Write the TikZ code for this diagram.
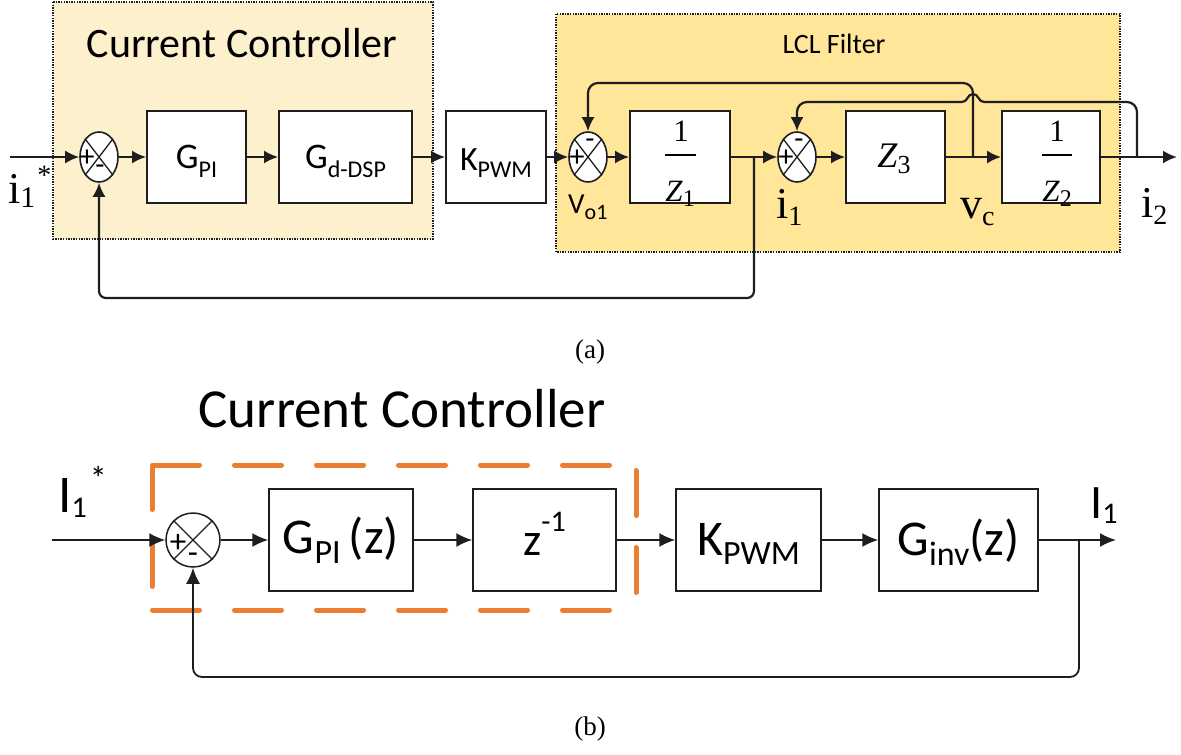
\documentclass[tikz,border=0pt]{standalone}
\usepackage{fontspec}
\setmainfont{Carlito}
\newfontfamily\tnr{Liberation Serif}
\usetikzlibrary{arrows.meta,shapes.geometric}
\definecolor{ccfill}{HTML}{FDF0CC}
\definecolor{lclfill}{HTML}{FFE699}
\definecolor{orng}{HTML}{ED7D31}
\definecolor{ln}{HTML}{1E1E1E}
\newcommand{\fs}[1]{\fontsize{#1}{#1}\selectfont}
\newcommand{\lsub}[3]{\raisebox{-#2pt}{\fs{#1}#3}}
\newcommand{\lsup}[3]{\raisebox{#2pt}{\fs{#1}#3}}
\begin{document}
\begin{tikzpicture}[x=1pt,y=-1pt,
  box/.style={draw=ln, fill=white, line width=1.8pt, inner sep=0pt},
  sumj/.style={ellipse, draw=ln, fill=white, line width=1.6pt, inner sep=0pt, minimum width=38pt, minimum height=50pt},
  sumc/.style={circle, draw=ln, fill=white, line width=1.5pt, inner sep=0pt, minimum size=54pt},
  arr/.style={draw=ln, line width=2.2pt, -{Latex[length=14pt,width=13pt]}},
  wire/.style={draw=ln, line width=2.2pt},
  fbar/.style={draw=black, line width=2.4pt},
  xline/.style={draw=ln, line width=1.3pt},
  arrb/.style={draw=ln, line width=1.8pt, -{Latex[length=16pt,width=14pt]}},
  dotbox/.style={draw=ln, line width=1.4pt, dash pattern=on 1.4pt off 1.2pt},
  pm/.style={inner sep=0pt, font=\fs{30}},
  txt/.style={inner sep=0pt, anchor=base},
  lbl/.style={inner sep=0pt, anchor=base west},
  odash/.style={draw=orng, line width=5pt, line cap=round}]
\useasboundingbox (0,0) rectangle (1181,755);

% ---------------- (a) ----------------
\path[dotbox, fill=ccfill] (53,2) rectangle (433,239);
\path[dotbox, fill=lclfill] (556,14) rectangle (1120,252);
\node[txt, font=\fs{42}] (cctitle) at (242,57) {Current Controller};
\node[txt, font=\fs{28}] (lcltitle) at (834,53) {LCL Filter};

\node[sumj] (s1) at (99,157) {};
\node[box, minimum width=99pt, minimum height=92pt] (gpi) at (196.5,157) {};
\node[box, minimum width=133pt, minimum height=92pt] (gd) at (345.5,157) {};
\node[box, minimum width=100pt, minimum height=92pt] (kpwm) at (496,157) {};
\node[sumj] (s2) at (588,157) {};
\node[box, minimum width=100pt, minimum height=92pt] (z1) at (680,157) {};
\node[sumj] (s3) at (797,157) {};
\node[box, minimum width=99pt, minimum height=92pt] (z3) at (895.5,157) {};
\node[box, minimum width=98pt, minimum height=92pt] (z2) at (1051,157) {};

\foreach \s in {s1,s2,s3}{
  \draw[xline] (\s.north west) -- (\s.south east) (\s.north east) -- (\s.south west);
}
\node[pm] (s1p) at (87,158) {+};
\node[pm] (s1m) at (100,170) {-};
\node[pm] (s2p) at (577,158) {+};
\node[pm] (s2m) at (590,144) {-};
\node[pm] (s3p) at (786,158) {+};
\node[pm] (s3m) at (799,144) {-};

\node[txt, font=\fs{36}] (gpit) at (196.5,168) {G\lsub{24}{9}{PI}};
\node[txt, font=\fs{36}] (gdt) at (345.5,168) {G\lsub{24}{9}{d-DSP}};
\node[txt, font=\fs{34}] (kpwmt) at (496,170) {K\lsub{24}{7}{PWM}};
\node[txt, font=\tnr\fs{31}] (z1n) at (681,141) {1};
\node[txt, font=\tnr\fs{31}] (z1d) at (680,201) {\itshape Z\/\lsub{24}{5}{\upshape 1}};
\draw[fbar] (665,155) -- (696,155);
\node[txt, font=\tnr\fs{36}] (z3t) at (894,167) {\itshape Z\/\lsub{26}{6}{\upshape 3}};
\node[txt, font=\tnr\fs{31}] (z2n) at (1057,141) {1};
\node[txt, font=\tnr\fs{31}] (z2d) at (1057,201) {\itshape Z\/\lsub{24}{5}{\upshape 2}};
\draw[fbar] (1042,155) -- (1072,155);

\coordinate (in1) at (10,157);
\coordinate (b1) at (754,157);
\coordinate (bvc) at (973,157);
\coordinate (bi2) at (1137,157);
\coordinate (hopR) at (984,102);
\coordinate (hopL) at (962,102);
\coordinate (out1) at (1177,157);

\draw[arr] (in1) -- (s1.west);
\draw[arr] (s1.east) -- (gpi.west);
\draw[arr] (gpi.east) -- (gd.west);
\draw[arr] (gd.east) -- (kpwm.west);
\draw[arr] (kpwm.east) -- (s2.west);
\draw[arr] (s2.east) -- (z1.west);
\draw[arr] (z1.east) -- (s3.west);
\draw[arr] (s3.east) -- (z3.west);
\draw[arr] (z3.east) -- (z2.west);
\draw[arr] (z2.east) -- (out1);
\draw[arr, rounded corners=7pt] (b1) -- (754,298) -- (99,298) -- (s1.south);
\draw[arr, rounded corners=10pt] (bvc) -- (973,83) -- (588,83) -- (s2.north);
\draw[wire, rounded corners=10pt] (bi2) -- (1137,102) -- (hopR);
\draw[wire] (hopR) .. controls (978,102) and (979,94) .. (973,94)
   .. controls (967,94) and (968,102) .. (hopL);
\draw[arr, rounded corners=10pt] (hopL) -- (797,102) -- (s3.north);

\node[lbl, font=\tnr\fs{44}] (lin) at (8,203) {i\lsub{30}{4}{1}\hspace{2pt}\lsup{28}{19}{*}};
\node[lbl, font=\fs{29}] (lvo) at (568,213) {V\lsub{22}{6}{o1}};
\node[lbl, font=\tnr\fs{44}] (li1) at (776,218) {i\lsub{28}{7}{1}};
\node[lbl, font=\tnr\fs{44}] (lvc) at (960,218) {v\lsub{28}{7}{c}};
\node[lbl, font=\tnr\fs{44}] (li2) at (1141,217) {i\lsub{28}{7}{2}};
\node[txt, font=\tnr\fs{27}] (capa) at (590,358) {(a)};

% ---------------- (b) ----------------
\node[txt, font=\fs{55}] (cctitle2) at (402,427) {Current Controller};
\draw[odash, dash pattern=on 47pt off 35pt] (152.5,465) -- (636,465);
\draw[odash, dash pattern=on 47pt off 35pt] (152.5,610) -- (636,610);
\draw[odash, dash pattern=on 42pt off 35pt] (152,467.5) -- (152,610);
\draw[odash, dash pattern=on 45pt off 32pt] (636,470.5) -- (636,610);

\node[sumc] (s4) at (193,540) {};
\draw[xline] (s4.north west) -- (s4.south east) (s4.north east) -- (s4.south west);
\node[pm, font=\fs{33}] (s4p) at (178,543) {+};
\node[pm, font=\fs{33}] (s4m) at (193,558) {-};
\node[box, line width=1.4pt, minimum width=144pt, minimum height=102pt] (gpiz) at (341,540) {};
\node[box, line width=1.4pt, minimum width=143pt, minimum height=102pt] (zinv) at (544.5,540) {};
\node[box, line width=1.4pt, minimum width=145pt, minimum height=102pt] (kpwm2) at (748.5,540) {};
\node[box, line width=1.4pt, minimum width=159pt, minimum height=102pt] (ginv) at (958.5,540) {};

\node[txt, font=\fs{50}] (gpizt) at (341,553) {G\lsub{34}{10}{PI}\,(z)};
\node[txt, font=\fs{46}] (zinvt) at (544.5,555) {z\lsup{30}{24}{-1}};
\node[txt, font=\fs{50}] (kpwm2t) at (748.5,555) {K\lsub{34}{9}{PWM}};
\node[txt, font=\fs{50}] (ginvt) at (958.5,555) {G\lsub{34}{10}{inv}(z)};

\coordinate (in2) at (52,540);
\coordinate (b2) at (1079,540);
\coordinate (out2) at (1116,540);
\draw[arrb] (in2) -- (s4.west);
\draw[arrb] (s4.east) -- (gpiz.west);
\draw[arrb] (gpiz.east) -- (zinv.west);
\draw[arrb] (zinv.east) -- (kpwm2.west);
\draw[arrb] (kpwm2.east) -- (ginv.west);
\draw[arrb] (ginv.east) -- (out2);
\draw[arrb, rounded corners=9pt] (b2) -- (1079,677) -- (193,677) -- (s4.south);

\node[lbl, font=\fs{53}] (lI1s) at (58,512) {I\lsub{30}{5}{1}\hspace{3pt}\lsup{34}{22}{*}};
\node[lbl, font=\fs{48}] (lI1) at (1090,518) {I\lsub{30}{5}{1}};
\node[txt, font=\tnr\fs{27}] (capb) at (590,735) {(b)};
\end{tikzpicture}
\end{document}
